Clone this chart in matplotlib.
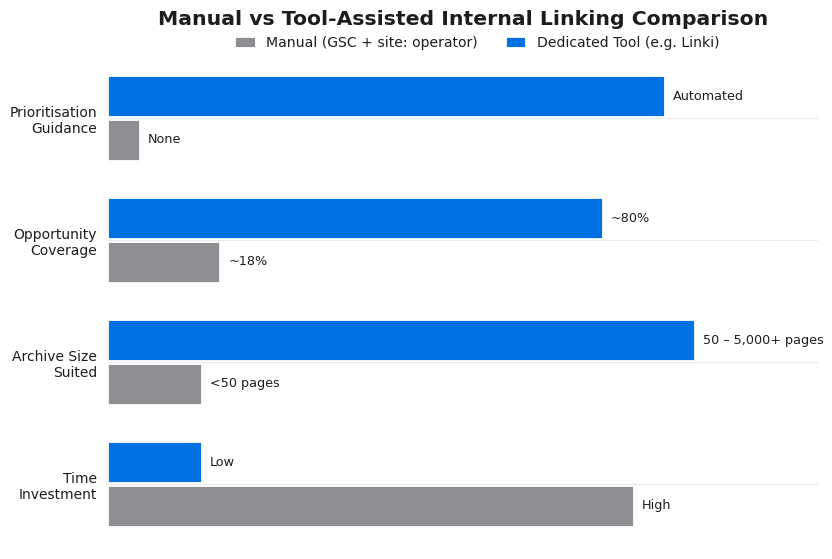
import numpy as np
import matplotlib.pyplot as plt

categories = ['Prioritisation\nGuidance', 'Opportunity\nCoverage', 'Archive Size\nSuited', 'Time\nInvestment']
manual_values = [5, 18, 15, 85]
tool_values = [90, 80, 95, 15]
manual_labels = ['None', '~18%', '<50 pages', 'High']
tool_labels = ['Automated', '~80%', '50 – 5,000+ pages', 'Low']

manual_color = '#8E8E93'
tool_color = '#0071E3'
text_color = '#1d1d1f'

fig = plt.figure(figsize = (8.32, 5.59), dpi = 100)
ax = fig.add_axes([0.13, 0.025, 0.853, 0.873])

y = np.arange(len(categories))
bar_h = 0.33
offset = 0.18

ax.barh(y + offset, manual_values, height = bar_h, color = manual_color, edgecolor = 'white', linewidth = 0.6,
        label = 'Manual (GSC + site: operator)', zorder = 3)
ax.barh(y - offset, tool_values, height = bar_h, color = tool_color, edgecolor = 'white', linewidth = 0.6,
        label = 'Dedicated Tool (e.g. Linki)', zorder = 3)

for yi, v, lab in zip(y, manual_values, manual_labels):
    ax.annotate(lab, (v, yi + offset), xytext = (9, 0), textcoords = 'offset pixels',
                va = 'center', ha = 'left', fontsize = 9.2, color = text_color)
for yi, v, lab in zip(y, tool_values, tool_labels):
    ax.annotate(lab, (v, yi - offset), xytext = (9, 0), textcoords = 'offset pixels',
                va = 'center', ha = 'left', fontsize = 9.2, color = text_color)

ax.set_xlim(0, 115)
ax.set_ylim(len(categories) - 0.5, -0.5)
ax.set_yticks(y)
ax.set_yticklabels(categories, fontsize = 10.0, color = text_color)
ax.set_xticks([])
ax.tick_params(axis = 'y', length = 0, pad = 8)
ax.grid(axis = 'y', color = '#ececec', linewidth = 0.8, zorder = 0)
for s in ax.spines.values():
    s.set_visible(False)

ax.set_title('Manual vs Tool-Assisted Internal Linking Comparison', fontsize = 14.7, fontweight = 'bold',
             color = text_color, pad = 23)
ax.legend(loc = 'center', bbox_to_anchor = (0.52, 1.029), ncol = 2, frameon = False, fontsize = 10.1,
          handlelength = 1.4, handleheight = 0.7, columnspacing = 2.0, labelcolor = text_color)

plt.savefig('out.png', dpi = 100)
